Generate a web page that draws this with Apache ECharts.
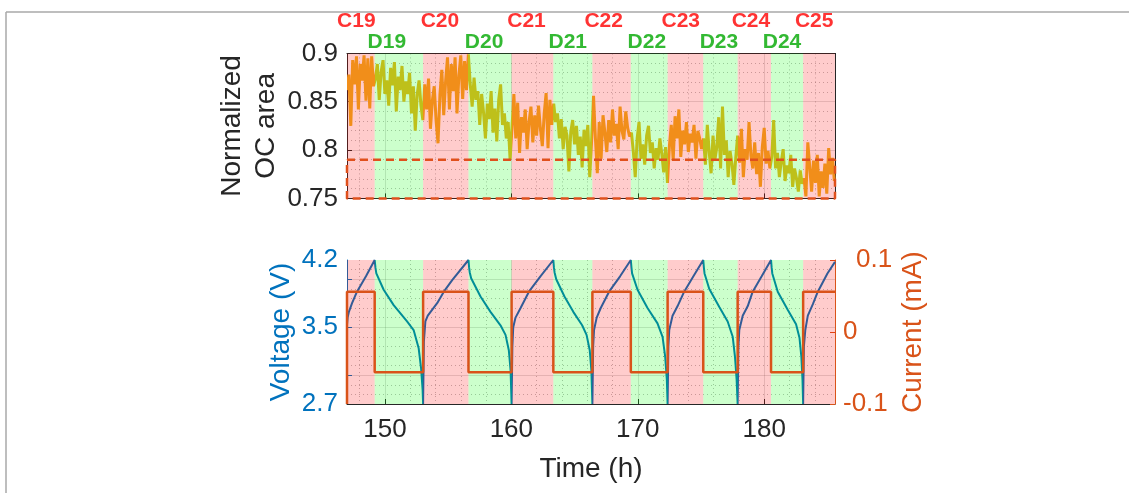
<!DOCTYPE html>
<html><head><meta charset="utf-8">
<script src="https://cdn.jsdelivr.net/npm/echarts@6/dist/echarts.min.js"></script>
<style>html,body{margin:0;padding:0;background:#fff}#c{width:1129px;height:493px}</style>
</head><body><div id="c"></div>
<script>
// ---------- DATA ----------
const phaseNames = ['C19','D19','C20','D20','C21','D21','C22','D22','C23','D23','C24','D24','C25'];
const phaseBounds = [147, 149.19, 153.02, 156.61, 160.02, 163.32, 166.41, 169.45, 172.36, 175.18, 177.9, 180.54, 183.08, 185.6];
const labelTimes = [147.74, 150.15, 154.35, 157.84, 161.2, 164.46, 167.3, 170.72, 173.4, 176.42, 178.95, 181.41, 183.95];
const labelLevels = { C: 0.933, D: 0.912 };

const ocStart = 147, ocStep = 0.15;
const ocC19 = [0.862,0.878,0.825,0.893,0.868,0.897,0.842,0.889,0.872,0.898,0.851,0.895,0.843,0.897,0.866];
const ocD19 = [0.874,0.889,0.852,0.881,0.893,0.858,0.872,0.846,0.885,0.867,0.891,0.84,0.876,0.862,0.887,0.85,0.871,0.858,0.88,0.838,0.866,0.82,0.857,0.872,0.846,0.831];
const ocC20 = [0.868,0.842,0.874,0.822,0.851,0.866,0.83,0.807,0.857,0.883,0.836,0.871,0.896,0.842,0.889,0.861,0.896,0.838,0.877,0.898,0.853,0.892,0.862,0.899];
const ocD20 = [0.868,0.845,0.875,0.852,0.861,0.826,0.858,0.839,0.812,0.848,0.832,0.861,0.818,0.843,0.809,0.852,0.868,0.826,0.838,0.812,0.829,0.79];
const ocC21 = [0.823,0.858,0.812,0.849,0.797,0.834,0.818,0.842,0.801,0.829,0.845,0.808,0.836,0.815,0.846,0.822,0.804,0.838,0.859,0.802,0.852,0.826];
const ocD21 = [0.848,0.829,0.838,0.812,0.832,0.801,0.824,0.815,0.778,0.819,0.831,0.806,0.825,0.795,0.814,0.782,0.821,0.804,0.826,0.772,0.81];
const ocC22 = [0.856,0.812,0.776,0.829,0.791,0.836,0.818,0.798,0.831,0.808,0.842,0.815,0.827,0.801,0.845,0.82,0.811,0.84,0.823,0.814];
const ocD22 = [0.818,0.798,0.772,0.812,0.829,0.791,0.806,0.785,0.815,0.825,0.797,0.808,0.781,0.802,0.79,0.812,0.796,0.777,0.803,0.766];
const ocC23 = [0.804,0.826,0.789,0.835,0.812,0.842,0.793,0.82,0.806,0.829,0.798,0.817,0.808,0.826,0.791,0.82,0.812,0.801];
const ocD23 = [0.812,0.785,0.826,0.798,0.776,0.815,0.79,0.803,0.834,0.781,0.845,0.795,0.81,0.772,0.799,0.786,0.764,0.792];
const ocC24 = [0.815,0.787,0.822,0.772,0.801,0.79,0.829,0.794,0.781,0.808,0.775,0.797,0.762,0.803,0.823,0.786,0.799,0.781];
const ocD24 = [0.793,0.831,0.781,0.797,0.772,0.788,0.801,0.768,0.784,0.776,0.795,0.762,0.781,0.771,0.757,0.779,0.765];
const ocC25 = [0.771,0.752,0.808,0.783,0.757,0.789,0.766,0.795,0.752,0.778,0.761,0.786,0.755,0.802,0.775,0.792,0.768];

const vC19 = [[147.0,3.52],[147.05,3.6],[147.15,3.66],[147.4,3.75],[147.79,3.87],[148.5,4.03],[149.19,4.2]];
const vD19 = [[149.25,4.12],[149.32,4.06],[149.9,3.89],[150.69,3.73],[151.75,3.56],[152.27,3.47],[152.67,3.28],[152.86,3.07],[152.98,2.85],[153.02,2.7]];
const vC20 = [[153.02,2.7],[153.08,3.35],[153.2,3.56],[153.39,3.62],[154.13,3.75],[154.66,3.87],[155.32,3.99],[156.61,4.2]];
const vD20 = [[156.66,4.12],[156.71,4.07],[156.82,4.01],[157.56,3.82],[158.35,3.66],[159.14,3.52],[159.54,3.42],[159.8,3.26],[159.94,3.05],[160.02,2.7]];
const vC21 = [[160.02,2.7],[160.08,3.3],[160.15,3.5],[160.33,3.6],[160.73,3.7],[161.39,3.87],[162.3,4.03],[163.32,4.2]];
const vD21 = [[163.37,4.12],[163.42,4.07],[163.55,4.0],[164.2,3.82],[164.9,3.66],[165.6,3.52],[165.95,3.42],[166.2,3.26],[166.33,3.05],[166.41,2.7]];
const vC22 = [[166.41,2.7],[166.47,3.3],[166.54,3.47],[166.75,3.6],[167.07,3.7],[167.73,3.87],[168.6,4.03],[169.45,4.2]];
const vD22 = [[169.5,4.12],[169.55,4.06],[169.98,3.89],[170.77,3.7],[171.56,3.54],[171.96,3.4],[172.17,3.19],[172.3,2.95],[172.36,2.7]];
const vC23 = [[172.36,2.7],[172.42,3.3],[172.49,3.47],[172.75,3.62],[173.15,3.72],[173.67,3.87],[174.4,4.03],[175.18,4.2]];
const vD23 = [[175.23,4.12],[175.28,4.06],[175.65,3.9],[176.45,3.71],[177.11,3.56],[177.51,3.4],[177.69,3.19],[177.82,2.95],[177.9,2.7]];
const vC24 = [[177.9,2.7],[177.96,3.3],[178.03,3.47],[178.3,3.62],[178.7,3.72],[179.09,3.87],[179.8,4.03],[180.54,4.2]];
const vD24 = [[180.59,4.12],[180.64,4.06],[181.07,3.87],[181.87,3.68],[182.52,3.53],[182.79,3.39],[182.94,3.19],[183.03,2.95],[183.08,2.7]];
const vC25 = [[183.08,2.7],[183.14,3.3],[183.25,3.47],[183.45,3.62],[183.85,3.74],[184.24,3.87],[185.0,4.06],[185.6,4.18]];

const currentLevels = { initial: -0.1, charge: 0.056, discharge: -0.056 };
const ocBox = { t: [147, 185.6], v: [0.75, 0.79] };
const xTickValues = [150, 160, 170, 180];
const vLabelValues = [2.7, 3.5, 4.2];
const vTickValues = [3.0, 3.5, 4.0];

// ---------- BUILD ----------
const ocArea = [].concat(ocC19, ocD19, ocC20, ocD20, ocC21, ocD21, ocC22, ocD22, ocC23, ocD23, ocC24, ocD24, ocC25);
const ocData = ocArea.map((v, i) => [+(ocStart + i * ocStep).toFixed(3), v]);
const vData = [].concat(vC19, vD19, vC20, vD20, vC21, vD21, vC22, vD22, vC23, vD23, vC24, vD24, vC25);
const isCharge = k => phaseNames[k][0] === 'C';
const iData = [[phaseBounds[0], currentLevels.initial]];
for (let k = 0; k < phaseNames.length; k++) {
  const lv = isCharge(k) ? currentLevels.charge : currentLevels.discharge;
  iData.push([phaseBounds[k], lv], [phaseBounds[k + 1], lv]);
}
const boxData = [[ocBox.t[0], ocBox.v[1]], [ocBox.t[1], ocBox.v[1]], [ocBox.t[1], ocBox.v[0]], [ocBox.t[0], ocBox.v[0]], [ocBox.t[0], ocBox.v[1]]];

const PINK = 'rgba(255,0,0,0.2)', GREEN = 'rgba(0,255,0,0.2)';
const bands = phaseNames.map((n, k) => [{ xAxis: phaseBounds[k], itemStyle: { color: isCharge(k) ? PINK : GREEN } }, { xAxis: phaseBounds[k + 1] }]);
function pieces(cc, dc) {
  return phaseNames.map((n, k) => {
    const p = { gte: phaseBounds[k], color: isCharge(k) ? cc : dc };
    if (k === phaseNames.length - 1) p.lte = phaseBounds[k + 1] + 1; else p.lt = phaseBounds[k + 1];
    return p;
  });
}
const labelData = phaseNames.map((n, k) => ({
  name: n, value: [labelTimes[k], labelLevels[n[0]]],
  label: { color: n[0] === 'C' ? '#FF0000' : '#00A800' }
}));

const FONT = "'Liberation Sans', Arial, Helvetica, sans-serif";
const DARK = '#262626';
const gridLine = { show: true, lineStyle: { color: 'rgba(38,38,38,0.15)', width: 1 } };
const minorLine = { show: true, lineStyle: { color: 'rgba(38,38,38,0.3)', width: 1, type: [1, 3] } };
const tick = { show: true, inside: true, length: 5, lineStyle: { color: DARK } };

const chart = echarts.init(document.getElementById('c'), null, { renderer: 'canvas' });
chart.setOption({
  animation: false,
  backgroundColor: '#fff',
  textStyle: { fontFamily: FONT },
  graphic: [
    { type: 'line', shape: { x1: 6, y1: 12, x2: 1129, y2: 12 }, style: { stroke: '#a8a8a8', lineWidth: 1.5 }, silent: true },
    { type: 'line', shape: { x1: 6, y1: 12, x2: 6, y2: 493 }, style: { stroke: '#a8a8a8', lineWidth: 1.5 }, silent: true }
  ],
  grid: [
    { left: 347, right: 294, top: 53.4, height: 145 },
    { left: 347, right: 294, top: 260, height: 144 }
  ],
  visualMap: [
    { type: 'piecewise', show: false, seriesIndex: 0, dimension: 0, pieces: pieces('#F18E1A', '#BEC01A') },
    { type: 'piecewise', show: false, seriesIndex: 2, dimension: 0, pieces: pieces('#335B97', '#008E97') }
  ],
  xAxis: [
    { gridIndex: 0, type: 'value', min: 147, max: 185.6,
      axisLine: { show: true, onZero: false, lineStyle: { color: DARK, width: 1 } },
      axisTick: Object.assign({ customValues: xTickValues }, tick),
      axisLabel: { show: false },
      splitLine: gridLine, minorTick: { show: false, splitNumber: 5 }, minorSplitLine: minorLine },
    { gridIndex: 0, type: 'value', min: 147, max: 185.6, position: 'top',
      axisLine: { show: true, onZero: false, lineStyle: { color: DARK, width: 1 } },
      axisTick: { show: false }, axisLabel: { show: false }, splitLine: { show: false } },
    { gridIndex: 1, type: 'value', min: 147, max: 185.6,
      axisLine: { show: true, onZero: false, lineStyle: { color: DARK, width: 1 } },
      axisTick: Object.assign({ customValues: xTickValues }, tick),
      axisLabel: { customValues: xTickValues, color: DARK, fontSize: 26, margin: 13, fontFamily: FONT },
      splitLine: gridLine, minorTick: { show: false, splitNumber: 5 }, minorSplitLine: minorLine,
      name: 'Time (h)', nameLocation: 'middle', nameGap: 51,
      nameTextStyle: { color: DARK, fontSize: 28, fontFamily: FONT } }
  ],
  yAxis: [
    { gridIndex: 0, type: 'value', min: 0.75, max: 0.9, interval: 0.05,
      axisLine: { show: true, onZero: false, lineStyle: { color: DARK, width: 1 } },
      axisTick: tick,
      axisLabel: { color: DARK, fontSize: 26, margin: 9, fontFamily: FONT },
      splitLine: gridLine, minorTick: { show: false, splitNumber: 5 }, minorSplitLine: minorLine,
      name: 'Normalized\nOC area', nameLocation: 'middle', nameGap: 63,
      nameTextStyle: { color: DARK, fontSize: 28, lineHeight: 34, fontFamily: FONT } },
    { gridIndex: 0, type: 'value', min: 0.75, max: 0.9, position: 'right',
      axisLine: { show: true, onZero: false, lineStyle: { color: DARK, width: 1 } },
      axisTick: { show: false }, axisLabel: { show: false }, splitLine: { show: false } },
    { gridIndex: 1, type: 'value', min: 2.7, max: 4.2, splitNumber: 3,
      axisLine: { show: true, onZero: false, lineStyle: { color: '#0072BD', width: 1 } },
      axisTick: { show: true, inside: true, length: 5, customValues: vTickValues, lineStyle: { color: '#0072BD' } },
      axisLabel: { customValues: vLabelValues, color: '#0072BD', fontSize: 26, margin: 9, fontFamily: FONT },
      splitLine: gridLine, minorTick: { show: false, splitNumber: 5 }, minorSplitLine: minorLine,
      name: 'Voltage (V)', nameLocation: 'middle', nameGap: 52,
      nameTextStyle: { color: '#0072BD', fontSize: 28, fontFamily: FONT } },
    { gridIndex: 1, type: 'value', min: -0.1, max: 0.1, splitNumber: 2, position: 'right',
      axisLine: { show: true, onZero: false, lineStyle: { color: '#D95319', width: 1 } },
      axisTick: { show: true, inside: true, length: 5, lineStyle: { color: '#D95319' } },
      axisLabel: { color: '#D95319', fontSize: 26, margin: 8, fontFamily: FONT,
        formatter: v => (v > 0 ? '\u2002' + v : String(v)) },
      splitLine: { show: false },
      name: 'Current (mA)', nameLocation: 'middle', nameGap: 64,
      nameTextStyle: { color: '#D95319', fontSize: 28, fontFamily: FONT } }
  ],
  series: [
    { name: 'OC area', type: 'line', xAxisIndex: 0, yAxisIndex: 0, data: ocData,
      showSymbol: false, symbol: 'none', lineStyle: { width: 3 }, z: 3,
      markArea: { silent: true, data: bands } },
    { name: 'box', type: 'line', xAxisIndex: 0, yAxisIndex: 0, data: boxData, clip: false,
      showSymbol: false, symbol: 'none', z: 4,
      lineStyle: { color: '#E0501C', width: 2.5, type: [8, 5] } },
    { name: 'Voltage', type: 'line', xAxisIndex: 2, yAxisIndex: 2, data: vData,
      showSymbol: false, symbol: 'none', lineStyle: { width: 2 }, z: 3,
      markArea: { silent: true, data: bands } },
    { name: 'Current', type: 'line', xAxisIndex: 2, yAxisIndex: 3, data: iData,
      showSymbol: false, symbol: 'none', z: 4,
      lineStyle: { color: '#D95319', width: 2.5 }, itemStyle: { color: '#D95319' } },
    { name: 'labels', type: 'scatter', xAxisIndex: 0, yAxisIndex: 0, data: labelData, clip: false,
      symbolSize: 0.1, itemStyle: { color: 'transparent' }, silent: true,
      label: { show: true, position: 'inside', formatter: '{b}', fontSize: 21, fontWeight: 'bold', fontFamily: FONT } }
  ]
});
</script></body></html>
